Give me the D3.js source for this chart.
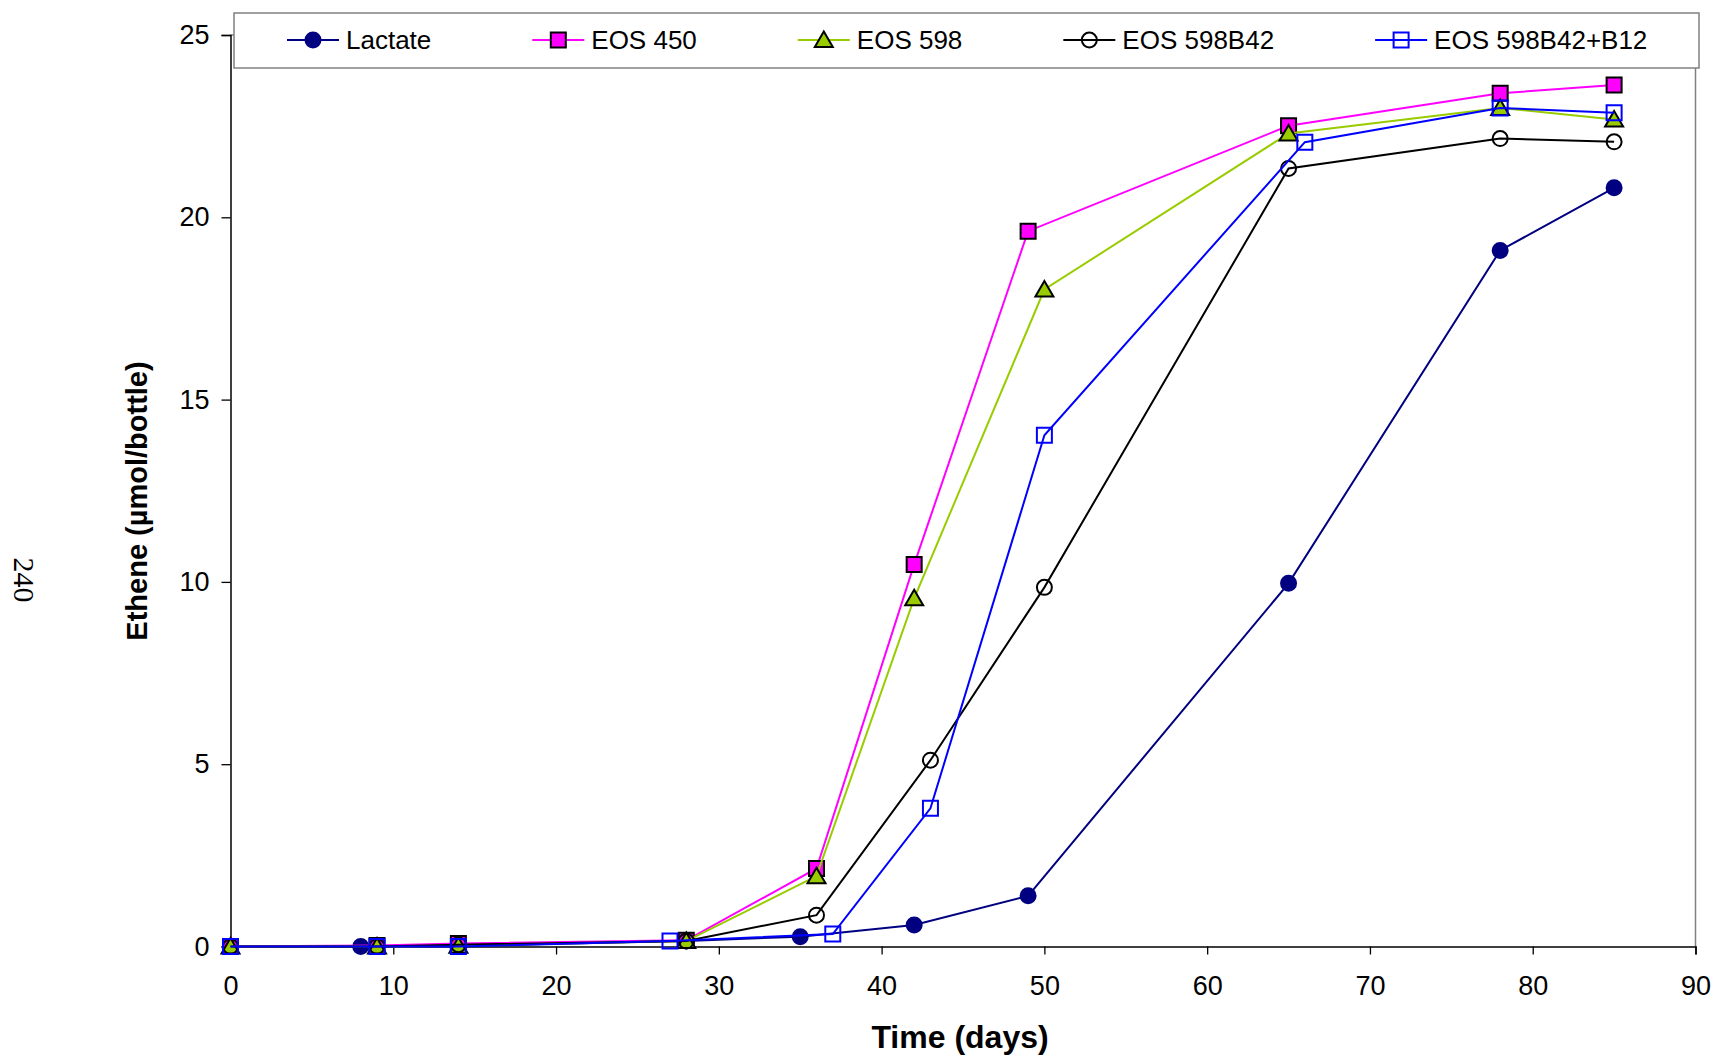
<!DOCTYPE html>
<html><head><meta charset="utf-8">
<script src="https://cdn.jsdelivr.net/npm/d3@7"></script>
<style>
html,body{margin:0;padding:0;background:#fff;}
svg{display:block;}
</style></head>
<body>
<svg id="chart" width="1716" height="1057" font-family='"Liberation Sans",Arial,sans-serif'></svg>
<script>
// ---- data ----
const seriesNames = ["Lactate", "EOS 450", "EOS 598", "EOS 598B42", "EOS 598B42+B12"];
const lactateX = [0, 8, 14, 28, 35, 42, 49, 65, 78, 85];
const lactateY = [0, 0, 0.02, 0.15, 0.27, 0.59, 1.39, 9.96, 19.09, 20.81];
const eos450X = [0, 9, 14, 28, 36, 42, 49, 65, 78, 85];
const eos450Y = [0, 0.03, 0.08, 0.17, 2.14, 10.48, 19.62, 22.51, 23.4, 23.63];
const eos598X = [0, 9, 14, 28, 36, 42, 50, 65, 78, 85];
const eos598Y = [0, 0, 0.02, 0.15, 1.93, 9.55, 18.02, 22.3, 23.0, 22.68];
const b42X = [0, 9, 14, 28, 36, 43, 50, 65, 78, 85];
const b42Y = [0, 0, 0.05, 0.15, 0.86, 5.11, 9.85, 21.34, 22.16, 22.07];
const b12X = [0, 9, 14, 27, 37, 43, 50, 66, 78, 85];
const b12Y = [0, 0, 0, 0.15, 0.34, 3.79, 14.02, 22.06, 23.0, 22.87];
const xTicks = [0, 10, 20, 30, 40, 50, 60, 70, 80, 90];
const yTicks = [0, 5, 10, 15, 20, 25];
const xTitle = "Time (days)";
const yTitle = "Ethene (µmol/bottle)";
const pageNumber = "240";

// ---- styles ----
const styles = [
  {line:"#000080", fill:"#000080", stroke:"#000080", shape:"circle"},
  {line:"#FF00FF", fill:"#FF00FF", stroke:"#000000", shape:"square"},
  {line:"#99CC00", fill:"#99CC00", stroke:"#000000", shape:"triangle"},
  {line:"#000000", fill:"none", stroke:"#000000", shape:"circle"},
  {line:"#0000FF", fill:"none", stroke:"#0000FF", shape:"square"}
];
const seriesData = [[lactateX,lactateY],[eos450X,eos450Y],[eos598X,eos598Y],[b42X,b42Y],[b12X,b12Y]]
  .map(([xs,ys]) => xs.map((x,i)=>({x, y: ys[i]})));

const svg = d3.select("#chart");
const SANS = '"Liberation Sans",Arial,sans-serif';
const L = 230.5, R = 1695.5, T = 35, B = 946.5;
const x = d3.scaleLinear().domain([0, 90]).range([L, R]);
const y = d3.scaleLinear().domain([0, 25]).range([B, T]);

// plot border (gray right/top)
svg.append("path").attr("d", `M${L},${T}H${R}V${B}`).attr("fill","none")
  .attr("stroke","#808080").attr("stroke-width",1.5);

// x axis
const xAxis = svg.append("g").attr("transform", `translate(0,${B})`);
xAxis.call(d3.axisBottom(x).tickValues(d3.range(5, 90, 10)).tickSize(6).tickFormat(""));
xAxis.call(d3.axisBottom(x).tickValues(xTicks).tickSize(8).tickPadding(21).tickFormat(d3.format("d")));
xAxis.selectAll(".domain").attr("stroke","#000").attr("stroke-width",1.5);
xAxis.selectAll(".tick line").attr("stroke","#000").attr("stroke-width",1.3);
xAxis.selectAll("text").attr("font-size",27).attr("fill","#000").attr("font-family",SANS);

// y axis
const yAxis = svg.append("g").attr("transform", `translate(${L},0)`);
yAxis.call(d3.axisLeft(y).tickValues(d3.range(2.5, 25, 5)).tickSize(5).tickFormat(""));
yAxis.call(d3.axisLeft(y).tickValues(yTicks).tickSize(9).tickPadding(12).tickFormat(d3.format("d")));
yAxis.selectAll(".domain").attr("stroke","#000").attr("stroke-width",1.5);
yAxis.selectAll(".tick line").attr("stroke","#000").attr("stroke-width",1.3);
yAxis.selectAll("text").attr("font-size",27).attr("fill","#000").attr("font-family",SANS);

// axis titles
svg.append("text").attr("x", 960).attr("y", 1048).attr("text-anchor","middle")
  .attr("font-size",32).attr("font-weight","bold").text(xTitle);
svg.append("text").attr("transform","translate(147,501) rotate(-90)").attr("text-anchor","middle")
  .attr("font-size",29).attr("font-weight","bold").text(yTitle);
svg.append("text").attr("transform","translate(14,580) rotate(90)").attr("text-anchor","middle")
  .attr("font-size",30).attr("font-family",'"Liberation Serif","Times New Roman",serif').text(pageNumber);

// markers
function markerPath(shape){
  if (shape === "circle") return d3.symbol().type(d3.symbolCircle).size(Math.PI*7.5*7.5)();
  if (shape === "square") return d3.symbol().type(d3.symbolSquare).size(15*15)();
  return "M0,-8.5L9,7L-9,7Z";
}
function drawMarker(g, st, cx, cy){
  g.append("path").attr("d", markerPath(st.shape)).attr("transform",`translate(${cx},${cy})`)
    .attr("fill", st.fill).attr("stroke", st.stroke).attr("stroke-width", 2);
}

const line = d3.line().x(d=>x(d.x)).y(d=>y(d.y));
seriesData.forEach((data, i) => {
  const st = styles[i];
  const g = svg.append("g");
  g.append("path").datum(data).attr("d", line).attr("fill","none")
    .attr("stroke", st.line).attr("stroke-width", 2);
  data.forEach(d => drawMarker(g, st, x(d.x), y(d.y)));
});

// legend
const leg = svg.append("g");
leg.append("rect").attr("x",234).attr("y",13).attr("width",1465).attr("height",55)
  .attr("fill","#fff").attr("stroke","#808080").attr("stroke-width",1.5);
let lx = 287;
seriesNames.forEach((name, i) => {
  const st = styles[i];
  const ly = 40;
  leg.append("line").attr("x1",lx).attr("x2",lx+52).attr("y1",ly).attr("y2",ly)
    .attr("stroke",st.line).attr("stroke-width",2);
  drawMarker(leg, st, lx+26, ly);
  const t = leg.append("text").attr("x", lx+59).attr("y", ly+9).attr("font-size",26).text(name);
  const w = t.node().getComputedTextLength();
  lx = lx + 59 + w + 101;
});
</script>
</body></html>
